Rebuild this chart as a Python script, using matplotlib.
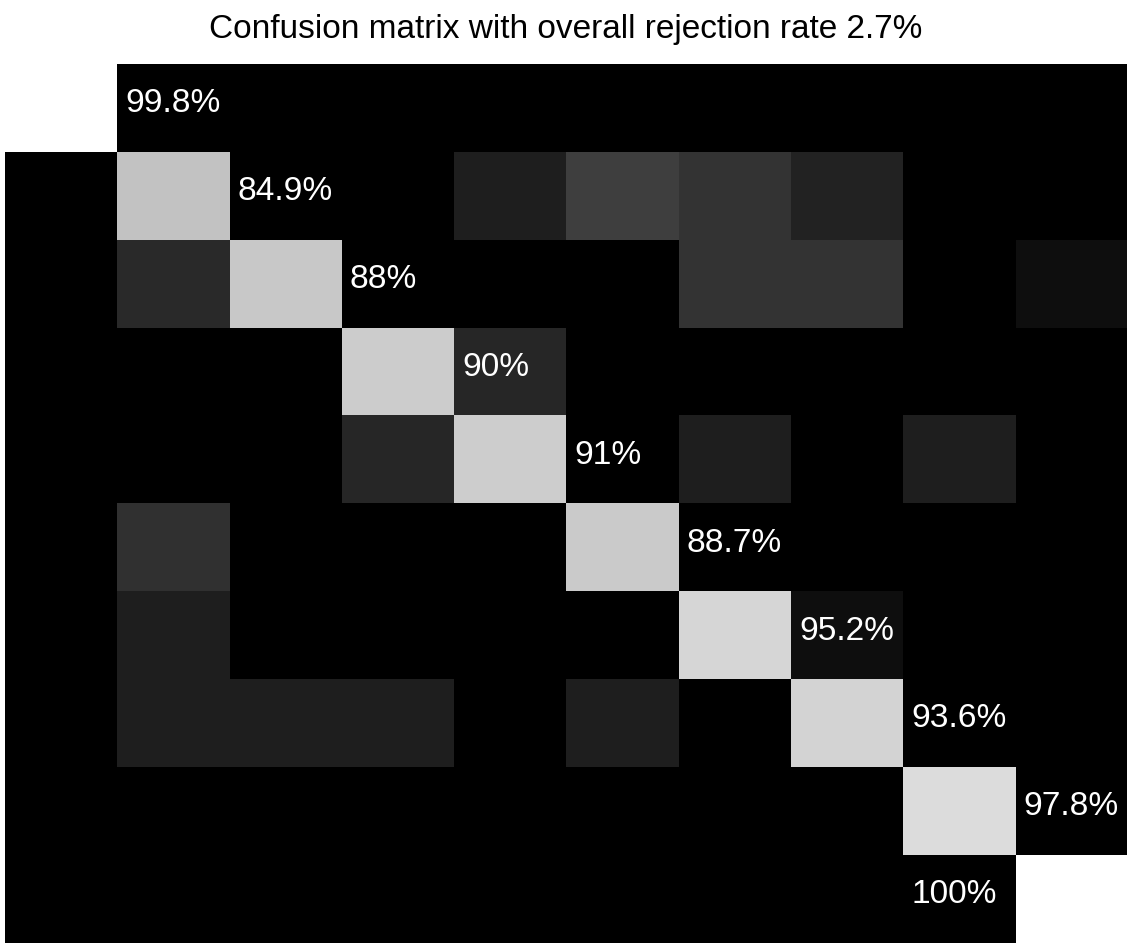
import numpy as np
import matplotlib
matplotlib.use("Agg")
import matplotlib.pyplot as plt
from matplotlib import font_manager
from matplotlib.colors import LinearSegmentedColormap

# ---------------- data ----------------
title_text = "Confusion matrix with overall rejection rate 2.7%"
n_classes = 10
diag_values = [0.998, 0.849, 0.88, 0.90, 0.91, 0.887, 0.952, 0.936, 0.978, 1.0]
diag_labels = ["99.8%", "84.9%", "88%", "90%", "91%", "88.7%", "95.2%", "93.6%", "97.8%", "100%"]
# where each label is drawn (row, column) in the picture
label_rows = [0, 1, 2, 3, 4, 5, 6, 7, 8, 9]
label_cols = [1, 2, 3, 4, 5, 6, 7, 8, 9, 8]
# off-diagonal confusions (row, col, value)
off_rows = [1, 1, 1, 1, 2, 2, 2, 2, 3, 4, 4, 4, 5, 6, 6, 7, 7, 7, 7]
off_cols = [4, 5, 6, 7, 1, 6, 7, 9, 4, 3, 6, 8, 1, 1, 7, 1, 2, 3, 5]
off_vals = [0.02, 0.06, 0.045, 0.025, 0.035, 0.045, 0.045, 0.01, 0.03, 0.03,
            0.02, 0.02, 0.04, 0.02, 0.01, 0.02, 0.02, 0.02, 0.02]

M = np.zeros((n_classes, n_classes))
for i, v in enumerate(diag_values):
    M[i, i] = v
for r, c, v in zip(off_rows, off_cols, off_vals):
    M[r, c] = v

# grey map tuned to the printed (dithered) appearance
cmap = LinearSegmentedColormap.from_list(
    "printgray",
    [(0.0, (0, 0, 0)), (0.01, (0.07,) * 3), (0.02, (0.12,) * 3), (0.03, (0.16,) * 3),
     (0.045, (0.21,) * 3), (0.06, (0.25,) * 3), (0.85, (0.76,) * 3), (0.9, (0.80,) * 3),
     (0.98, (0.86,) * 3), (0.995, (1, 1, 1)), (1.0, (1, 1, 1))])


def pick(fams):
    for f in fams:
        try:
            font_manager.findfont(font_manager.FontProperties(family=f), fallback_to_default=False)
            return f
        except Exception:
            pass
    return "DejaVu Sans"


fam = pick(["Liberation Sans Narrow", "Liberation Sans", "DejaVu Sans"])

W, H = 1127, 945
fig = plt.figure(figsize=(W / 100, H / 100), dpi=100, facecolor="white")
ax = fig.add_axes([5 / W, 1 / H, 1123 / W, 879 / H])
ax.imshow(M, cmap=cmap, vmin=0, vmax=1, aspect="auto", interpolation="nearest")
ax.set_xlim(-0.5, n_classes - 0.5)
ax.set_ylim(n_classes - 0.5, -0.5)
ax.set_axis_off()

renderer = fig.canvas.get_renderer()

# title
t = fig.text(566 / W, 1 - 38 / H, title_text, ha="center", va="baseline",
             fontsize=20, family=fam, color="black")
w = t.get_window_extent(renderer).width
t.set_fontsize(20 * 712 / w)

# labels
texts = []
for lab, r, c in zip(diag_labels, label_rows, label_cols):
    tx = ax.text(c - 0.43, r - 0.06, lab, ha="left", va="center",
                 color="white", fontsize=20, family=fam)
    texts.append(tx)
w0 = texts[0].get_window_extent(renderer).width
fs = 20 * 95 / w0
for tx in texts:
    tx.set_fontsize(fs)

fig.savefig("out.png", dpi=100, facecolor="white")
